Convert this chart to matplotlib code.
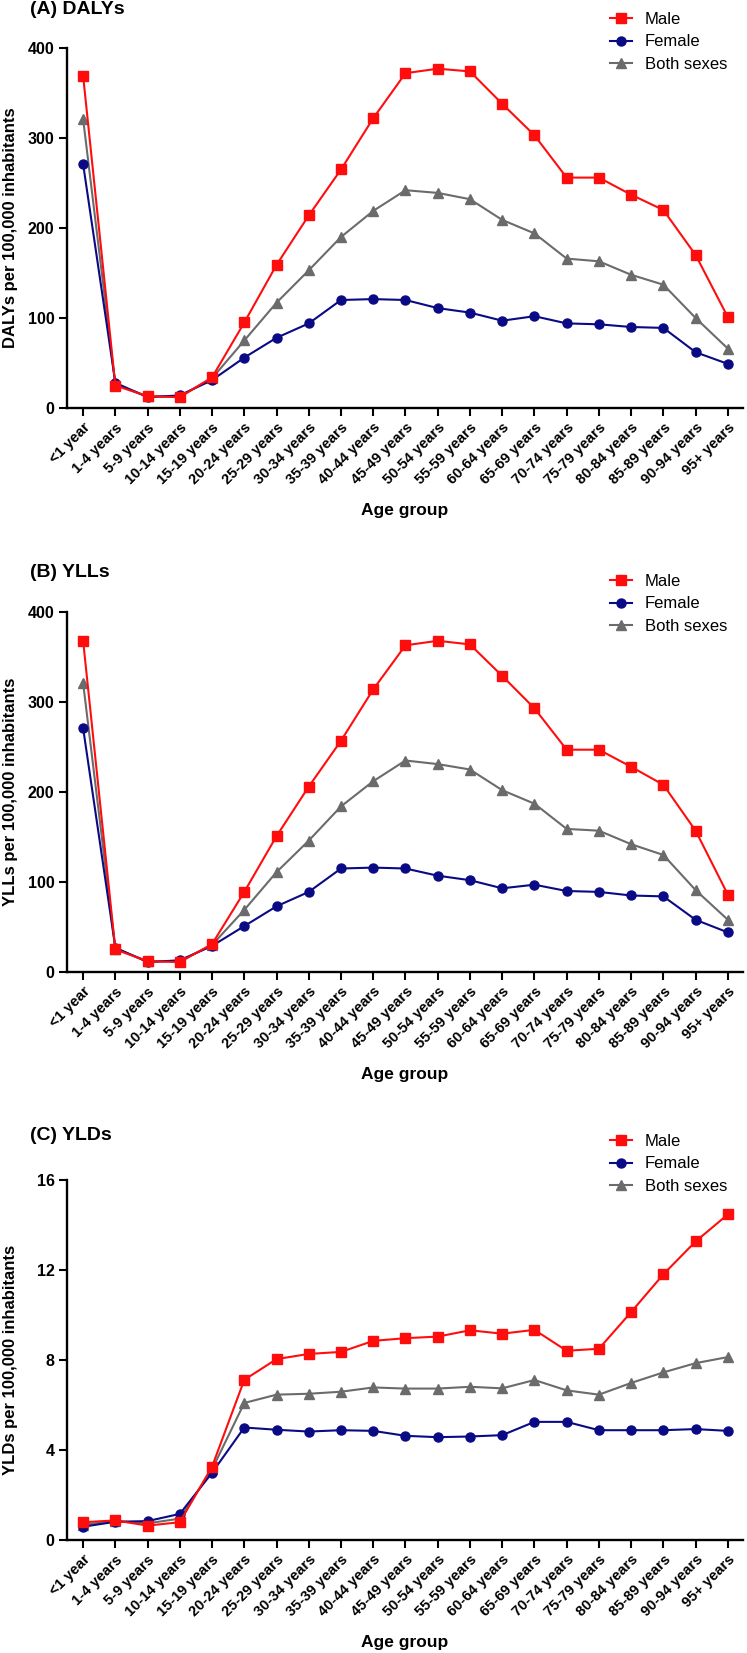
import matplotlib
matplotlib.use("Agg")
import matplotlib.pyplot as plt
import numpy as np

ages = ["<1 year", "1-4 years", "5-9 years", "10-14 years", "15-19 years",
        "20-24 years", "25-29 years", "30-34 years", "35-39 years", "40-44 years",
        "45-49 years", "50-54 years", "55-59 years", "60-64 years", "65-69 years",
        "70-74 years", "75-79 years", "80-84 years", "85-89 years", "90-94 years",
        "95+ years"]

# (A) DALYs
daly_male = [369, 25, 13, 12, 34, 95, 159, 214, 265, 322, 372, 377, 374, 338, 303,
             256, 256, 237, 220, 170, 101]
daly_female = [271, 28, 12, 14, 31, 56, 78, 94, 120, 121, 120, 111, 106, 97, 102,
               94, 93, 90, 89, 62, 49]
daly_both = [321, 26, 13, 13, 33, 75, 117, 153, 190, 219, 242, 239, 232, 209, 194,
             166, 163, 148, 137, 100, 66]

# (B) YLLs
yll_male = [368, 25, 12, 11, 31, 89, 151, 206, 257, 314, 363, 368, 364, 329, 293,
            247, 247, 228, 208, 157, 86]
yll_female = [271, 27, 11, 13, 29, 51, 73, 89, 115, 116, 115, 107, 102, 93, 97,
              90, 89, 85, 84, 58, 44]
yll_both = [321, 26, 12, 12, 30, 69, 111, 146, 184, 212, 235, 231, 225, 202, 187,
            159, 157, 142, 130, 91, 58]

# (C) YLDs
yld_male = [0.79, 0.87, 0.64, 0.79, 3.26, 7.12, 8.04, 8.27, 8.36, 8.85, 8.97, 9.04,
            9.32, 9.17, 9.34, 8.41, 8.50, 10.13, 11.81, 13.27, 14.47]
yld_female = [0.59, 0.81, 0.84, 1.16, 2.99, 5.0, 4.90, 4.82, 4.88, 4.85, 4.63, 4.57,
              4.60, 4.66, 5.25, 5.25, 4.88, 4.88, 4.88, 4.93, 4.85]
yld_both = [0.68, 0.84, 0.74, 0.95, 3.14, 6.09, 6.46, 6.50, 6.59, 6.78, 6.73, 6.73,
            6.81, 6.74, 7.11, 6.65, 6.46, 6.98, 7.45, 7.86, 8.13]

panels = [
    ("(A) DALYs", "DALYs per 100,000 inhabitants", daly_male, daly_female, daly_both,
     [0, 100, 200, 300, 400]),
    ("(B) YLLs", "YLLs per 100,000 inhabitants", yll_male, yll_female, yll_both,
     [0, 100, 200, 300, 400]),
    ("(C) YLDs", "YLDs per 100,000 inhabitants", yld_male, yld_female, yld_both,
     [0, 4, 8, 12, 16]),
]

# layout in figure pixels (y from top): axis top, axis bottom, title y, legend top
W, H = 747, 1653
layout = [(48, 408, 10, 12), (612, 972, 573, 574), (1180, 1540, 1135, 1134)]

plt.rcParams["font.family"] = ["Liberation Sans", "DejaVu Sans"]

red = "#FF0D0D"
navy = "#0A0A85"
grey = "#6B6B6B"

fig = plt.figure(figsize=(W / 100, H / 100), dpi=100)
x = np.arange(len(ages))

for (title, ylabel, m, f, b, yt), (top, bot, ty, ly) in zip(panels, layout):
    ax = fig.add_axes([67 / W, 1 - bot / H, 676 / W, (bot - top) / H])
    ax.plot(x, b, color=grey, lw=1.5, marker="^", ms=6.5, label="Both sexes", zorder=2)
    ax.plot(x, f, color=navy, lw=1.5, marker="o", ms=6.5, label="Female", zorder=3)
    ax.plot(x, m, color=red, lw=1.5, marker="s", ms=6.8, label="Male", zorder=4)

    ax.set_xlim(-0.5, len(ages) - 1 + 0.47)
    ax.set_ylim(yt[0], yt[-1])
    ax.set_yticks(yt)
    ax.set_yticklabels([str(v) for v in yt], fontsize=11.5, fontweight="bold")
    ax.set_xticks(x)
    ax.set_xticklabels(ages, rotation=45, ha="right", rotation_mode="anchor",
                       fontsize=10.5, fontweight="bold")
    for s in ["top", "right"]:
        ax.spines[s].set_visible(False)
    for s in ["left", "bottom"]:
        ax.spines[s].set_linewidth(1.7)
    ax.tick_params(axis="both", direction="out", length=6, width=1.5, pad=3)

    ax.set_ylabel(ylabel, fontsize=12, fontweight="bold", va="center")
    ax.yaxis.set_label_coords(-56 / 676, 0.5)
    ax.set_xlabel("Age group", fontsize=12.5, fontweight="bold", va="center")
    ax.xaxis.set_label_coords(0.5, -102 / (bot - top))

    fig.text(30 / W, 1 - ty / H, title, fontsize=14, fontweight="bold",
             ha="left", va="center")

    h, l = ax.get_legend_handles_labels()
    ax.legend(h[::-1], l[::-1], loc="upper left", bbox_to_anchor=(610 / W, 1 - ly / H),
              bbox_transform=fig.transFigure, frameon=False, fontsize=12,
              handlelength=1.3, handletextpad=0.8, labelspacing=0.45,
              borderpad=0, borderaxespad=0)

fig.savefig("out.png", dpi=100)
